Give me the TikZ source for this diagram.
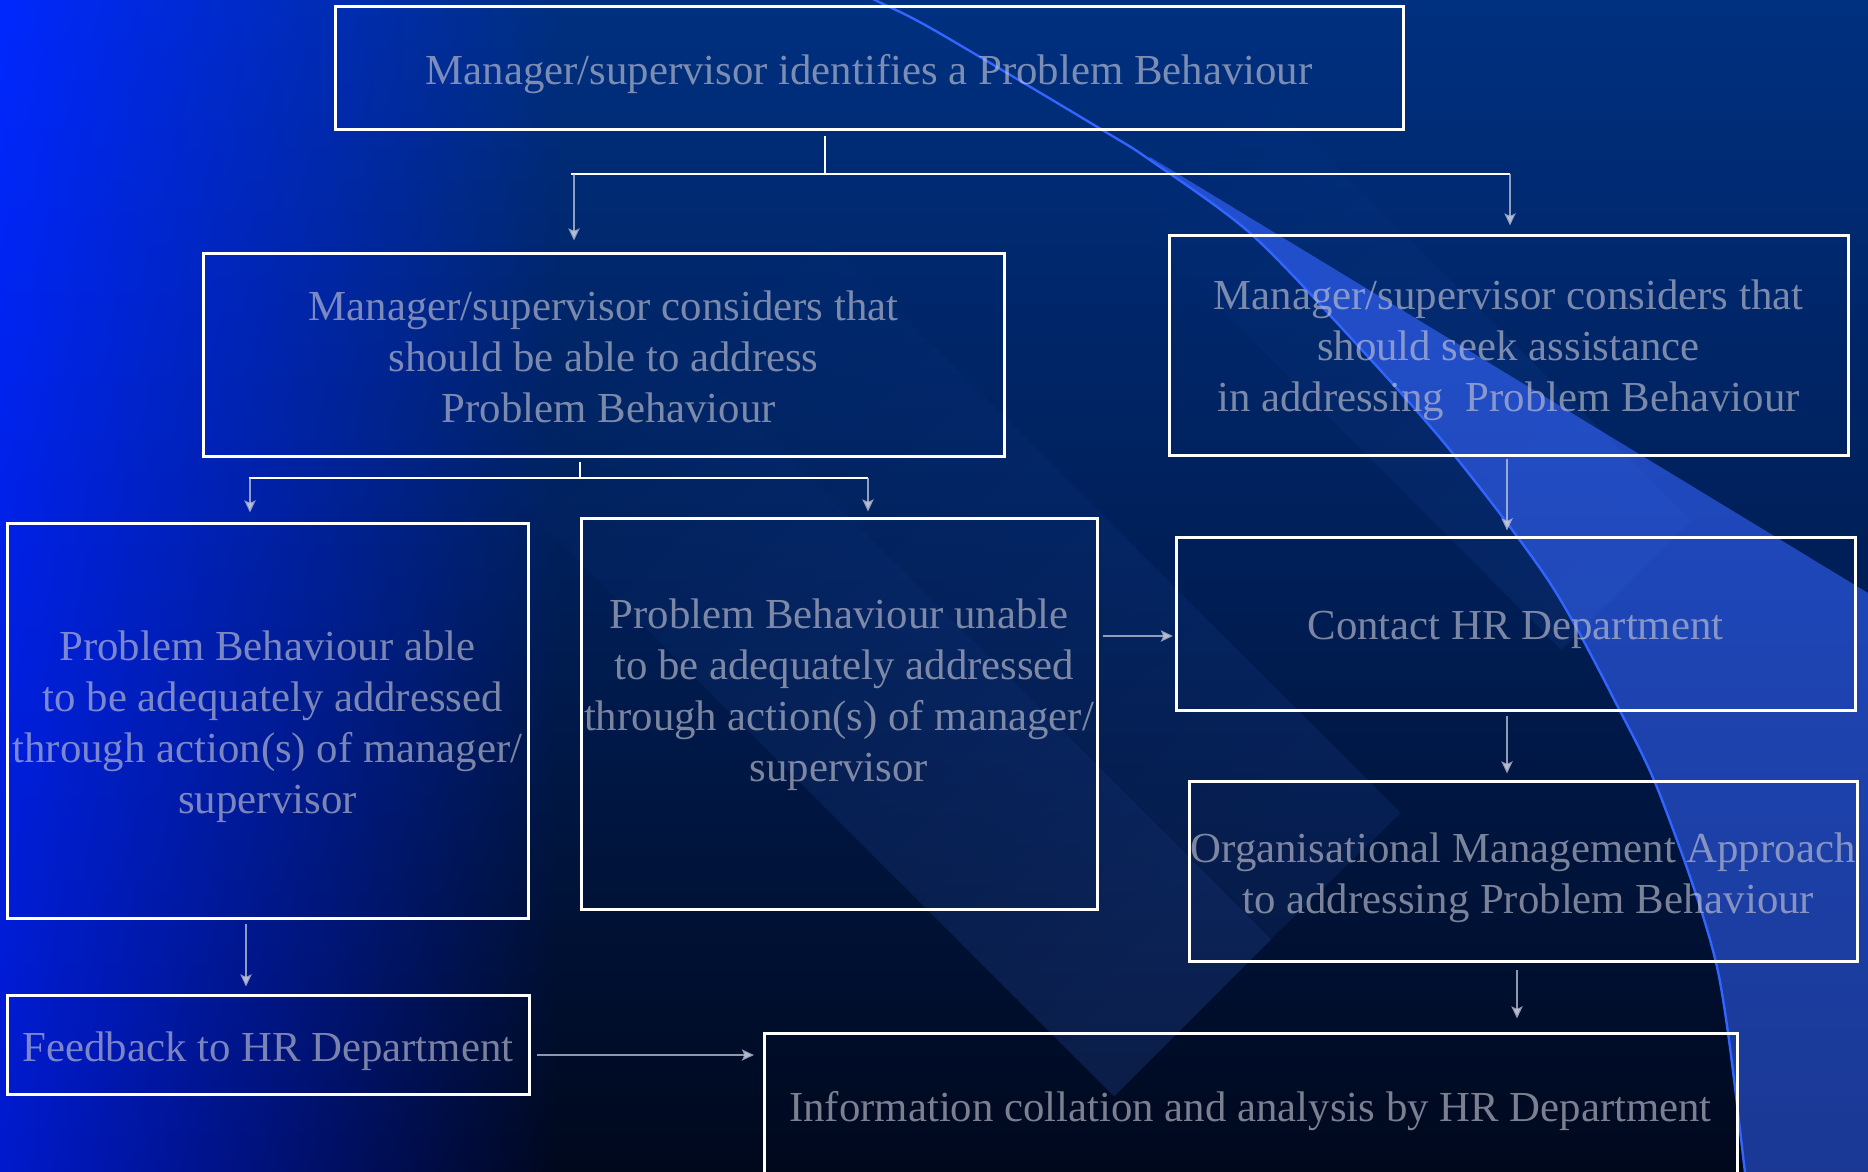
\documentclass[tikz,border=0pt]{standalone}
\usepackage{fontspec}
\setmainfont{Liberation Serif}
\usetikzlibrary{arrows.meta,fadings}
\definecolor{bgtop}{RGB}{0,48,128}
\definecolor{bgmid}{RGB}{0,30,86}
\definecolor{bgbot}{RGB}{0,8,28}
\definecolor{bright}{RGB}{0,40,255}
\definecolor{brightbot}{RGB}{0,26,205}
\definecolor{lighttop}{RGB}{34,80,208}
\definecolor{lightbot}{RGB}{26,56,148}
\definecolor{arcc}{RGB}{50,100,255}
\definecolor{txt}{RGB}{200,200,212}
\definecolor{arr}{RGB}{200,205,222}
\definecolor{bandc}{RGB}{60,110,230}
\tikzfading[name=fadeR, left color=transparent!0, right color=transparent!100]
\tikzfading[name=fadeBand, left color=transparent!0, middle color=transparent!20, right color=transparent!100]
\tikzset{
  box/.style={draw=white, line width=1.5pt, inner sep=0pt},
  boxtext/.style={inner sep=0pt, align=center, text=txt, text opacity=0.62,
    font=\fontsize{21.4}{25.5}\selectfont},
  wline/.style={draw=white, line width=1.3pt},
  arrline/.style={draw=arr, opacity=0.72, line width=1.3pt,
    -{Stealth[length=6pt,width=5.5pt,inset=1.2pt]}},
  band/.style={fill=bandc, opacity=0.19}
}
\begin{document}
\begin{tikzpicture}[x=0.5pt,y=-0.5pt]
\useasboundingbox (0,0) rectangle (1868,1172);
\clip (0,0) rectangle (1868,1172);
% background
\shade[top color=bgtop, bottom color=bgbot, middle color=bgmid] (0,0) rectangle (1868,1172);
\shade[top color=bright, bottom color=brightbot, path fading=fadeR] (0,0) rectangle (560,1172);
% light region right of the arc
\shade[top color=lighttop, bottom color=lightbot] (1868,593) -- (1150,157) --
  plot[smooth] coordinates {(1150,160) (1250,233) (1350,337) (1450,450) (1550,583) (1619,709) (1662,800) (1717,967) (1745,1172)}
  -- (1868,1172) -- cycle;
% diagonal bands
\fill[band, path fading=fadeBand, fading angle=135] (1113,1097) -- (1270,940) -- (570,240) -- (413,397) -- cycle;
\fill[band, opacity=0.11, path fading=fadeBand, fading angle=135] (1267,941) -- (1398,814) -- (698,114) -- (567,241) -- cycle;
\fill[band, opacity=0.10, path fading=fadeBand, fading angle=135] (1559,651) -- (1689,521) -- (1189,21) -- (1059,151) -- cycle;
% arc line
\draw[arcc, line width=1.2pt] plot[smooth] coordinates {(816,-30) (875,0) (934,30) (1104,131) (1150,160) (1250,233) (1350,337) (1450,450) (1550,583) (1619,709) (1662,800) (1717,967) (1745,1172) (1748,1200)};
% boxes
\node[box, minimum width=534pt, minimum height=61.5pt] (b1) at (869,68.5) {};
\node[box, minimum width=400.5pt, minimum height=101.5pt] (b2) at (603.5,354.5) {};
\node[box, minimum width=339.5pt, minimum height=110pt] (b3) at (1508.5,345) {};
\node[box, minimum width=260.5pt, minimum height=197.5pt] (b4) at (267.5,720.5) {};
\node[box, minimum width=258pt, minimum height=195.5pt] (b5) at (839,713.5) {};
\node[box, minimum width=339.5pt, minimum height=86.5pt] (b6) at (1515.5,623.5) {};
\node[box, minimum width=334pt, minimum height=90pt] (b7) at (1523,871) {};
\node[box, minimum width=486.5pt, minimum height=74pt] (b8) at (1250.5,1107) {};
\node[box, minimum width=261pt, minimum height=49.5pt] (b9) at (268,1044.5) {};
% texts
\node[boxtext] (t1) at ([yshift=-3pt]b1.center)
  {Manager/supervisor identifies a Problem Behaviour};
\node[boxtext] (t2) at ([yshift=-1.3pt]b2.center)
  {Manager/supervisor considers that\\ should be able to address\\ \hspace*{0.25em}Problem Behaviour};
\node[boxtext] (t3) at ([yshift=-2.7pt]b3.center)
  {Manager/supervisor considers that\\ should seek assistance\\ in addressing\ \ Problem Behaviour};
\node[boxtext] (t4) at ([yshift=-3pt]b4.center)
  {Problem Behaviour able\\ \hspace*{0.25em}to be adequately addressed\\ through action(s) of manager/\\ supervisor};
\node[boxtext] (t5) at (839,694.5)
  {Problem Behaviour unable\\ \hspace*{0.25em}to be adequately addressed\\ through action(s) of manager/\\ supervisor};
\node[boxtext] (t6) at ([yshift=-3pt]b6.center) {Contact HR Department};
\node[boxtext] (t7) at ([yshift=-3.3pt]b7.center)
  {Organisational Management Approach\\ \hspace*{0.25em}to addressing Problem Behaviour};
\node[boxtext] (t8) at ([yshift=-2pt]b8.center)
  {Information collation and analysis by HR Department};
\node[boxtext] (t9) at ([yshift=-3.5pt]b9.center) {Feedback to HR Department};
% connectors from b1
\coordinate (j1) at (825,174);
\coordinate (j1l) at (571,174);
\coordinate (j1r) at (1510,174);
\coordinate (a1) at (574,174);
\draw[wline, shorten <=2.5pt] (b1.south -| j1) -- (j1);
\draw[wline] (j1l) -- (j1r);
\draw[arrline, shorten >=5.5pt] (a1) -- (a1 |- b2.north);
\draw[arrline, shorten >=4pt] (j1r) -- (j1r |- b3.north);
% connectors from b2
\coordinate (j2) at (580,478);
\coordinate (j2l) at (249,478);
\coordinate (j2r) at (868,478);
\coordinate (a2) at (250,478);
\draw[wline, shorten <=2pt] (b2.south -| j2) -- (j2);
\draw[wline] (j2l) -- (j2r);
\draw[arrline, shorten >=4.5pt] (a2) -- (a2 |- b4.north);
\draw[arrline, shorten >=2.5pt] (j2r) -- (j2r |- b5.north);
% right column and bottom
\coordinate (xr) at (1507,0);
\coordinate (xr2) at (1517,0);
\coordinate (xl) at (246,0);
\coordinate (h1) at (1173,636);
\coordinate (h2) at (754,1055);
\draw[arrline, shorten <=1pt, shorten >=2.5pt] (b3.south -| xr) -- (b6.north -| xr);
\draw[arrline, shorten <=2pt] (b5.east |- h1) -- (h1);
\draw[arrline, shorten <=2pt, shorten >=3pt] (b6.south -| xr) -- (b7.north -| xr);
\draw[arrline, shorten <=3.5pt, shorten >=6.5pt] (b7.south -| xr2) -- (b8.north -| xr2);
\draw[arrline, shorten <=2pt, shorten >=3.5pt] (b4.south -| xl) -- (b9.north -| xl);
\draw[arrline, shorten <=3pt] (b9.east |- h2) -- (h2);
\end{tikzpicture}
\end{document}
